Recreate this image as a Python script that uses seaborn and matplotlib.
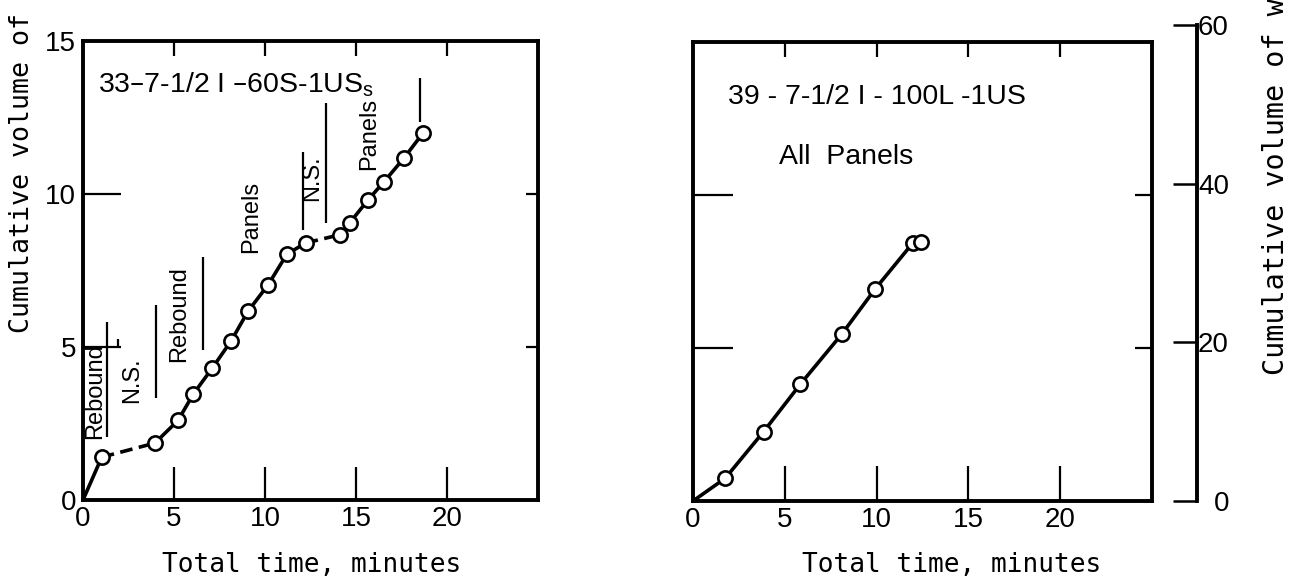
import matplotlib
matplotlib.use("Agg")
import matplotlib.pyplot as plt
from matplotlib import font_manager
import pandas as pd
import seaborn as sns

# ---- data -------------------------------------------------------------
# Test 33-7-1/2 I-60S-1US (volume scale 0-15)
time_33 = [0.0, 1.03, 3.95, 5.22, 6.07, 7.09, 8.14, 9.07, 10.18,
           11.2, 12.23, 14.13, 14.66, 15.65, 16.54, 17.63, 18.68]
vol_33 = [0.0, 1.40, 1.86, 2.60, 3.47, 4.30, 5.20, 6.17, 7.04,
          8.03, 8.40, 8.67, 9.06, 9.80, 10.40, 11.17, 11.99]
# style of the link between consecutive readings
link_33 = ["solid", "dashed"] + ["solid"] * 8 + ["dashed"] + ["solid"] * 5

# Test 39-7-1/2 I-100L-1US
time_39 = [0.0, 1.75, 3.85, 5.85, 8.10, 9.91, 11.97, 12.44]
vol_39 = [0.0, 0.74, 2.27, 3.82, 5.45, 6.92, 8.43, 8.48]

x_ticks = [0, 5, 10, 15, 20]
x_tick_labels = ["0", "5", "10", "15", "20"]
y_ticks = [0, 5, 10, 15]
y_tick_labels = ["0", "5", "10", "15"]
y2_ticks = [0, 20, 40, 60]
y2_tick_labels = ["0", "20", "40", "60"]

# phase notes on test 33: (label, time, volume)
phase_labels = [("Rebound", 0.66, 3.56), ("N.S.", 2.69, 3.92),
                ("Rebound", 5.27, 6.08), ("Panels", 9.23, 9.25),
                ("N.S.", 12.58, 10.52), ("Panels", 15.70, 11.95)]
# phase bars: (time, volume from, volume to)
phase_bars = [(1.32, 2.06, 5.82), (1.90, 5.00, 5.25), (4.00, 3.33, 6.37),
              (6.60, 4.90, 7.94), (12.10, 8.82, 11.37), (13.34, 9.05, 12.97),
              (18.50, 12.35, 13.80)]

# ---- style ------------------------------------------------------------
sns.set_theme(style="white")
names = {f.name for f in font_manager.fontManager.ttflist}
letter = "Liberation Sans" if "Liberation Sans" in names else "DejaVu Sans"
narrow = "Liberation Sans Narrow" if "Liberation Sans Narrow" in names else letter
mono = "DejaVu Sans Mono"
plt.rcParams["font.family"] = [letter, "DejaVu Sans"]
for key in ("text.color", "axes.labelcolor", "xtick.color", "ytick.color",
            "axes.edgecolor"):
    plt.rcParams[key] = "black"

W, H = 1289, 581
fig = plt.figure(figsize=(W / 100, H / 100), dpi=100)
fig.patch.set_facecolor("white")

ax1 = fig.add_axes([83 / W, 1 - 500 / H, 455 / W, 459 / H])
ax2 = fig.add_axes([693 / W, 1 - 501 / H, 459 / W, 459 / H])
ax3 = fig.add_axes([1177 / W, 1 - 501 / H, 20 / W, 476 / H])

LW = 2.6


def segments(t, v, links):
    rows = []
    for i, kind in enumerate(links):
        for j in (i, i + 1):
            rows.append({"time": t[j], "volume": v[j], "seg": i, "kind": kind})
    return pd.DataFrame(rows)


def draw_series(ax, t, v, links):
    df = segments(t, v, links)
    sns.lineplot(data=df, x="time", y="volume", units="seg", estimator=None,
                 style="kind", dashes={"solid": "", "dashed": (3.5, 1.8)},
                 color="black", linewidth=LW, legend=False, sort=False, ax=ax)
    pts = pd.DataFrame({"time": t[1:], "volume": v[1:]})
    sns.scatterplot(data=pts, x="time", y="volume", marker="o", s=105,
                    facecolor="white", edgecolor="black", linewidth=1.9,
                    zorder=4, ax=ax)


def frame(ax, lens, show_ylabels):
    ax.set_xlim(0, 25)
    ax.set_ylim(0, 15)
    ax.set_xticks(x_ticks, x_tick_labels, fontfamily=narrow, fontsize=20)
    if show_ylabels:
        ax.set_yticks(y_ticks, y_tick_labels, fontfamily=narrow, fontsize=20)
    else:
        ax.set_yticks(y_ticks, [""] * len(y_ticks))
    ax.tick_params(axis="both", direction="in", top=True, right=True,
                   bottom=True, left=True, width=1.6, color="black")
    ax.tick_params(axis="x", pad=4)
    ax.tick_params(axis="y", pad=5)
    bottom, top, left, right = lens
    for t in ax.xaxis.get_major_ticks():
        t.tick1line.set_markersize(bottom)
        t.tick2line.set_markersize(top)
    for t in ax.yaxis.get_major_ticks():
        t.tick1line.set_markersize(left)
        t.tick2line.set_markersize(right)
    for s in ax.spines.values():
        s.set_visible(True)
        s.set_linewidth(2.8)
        s.set_color("black")
    ax.set_facecolor("white")


# ---- left panel -------------------------------------------------------
draw_series(ax1, time_33, vol_33, link_33)
frame(ax1, (24, 11, 27, 9), True)
for label, t, v in phase_labels:
    ax1.text(t, v, label, rotation=90, ha="center", va="center",
             fontsize=17)
for t, v0, v1 in phase_bars:
    ax1.vlines(t, v0, v1, color="black", linewidth=1.6)
ax1.text(0.033, 0.906, "33\u20137-1/2 I \u201360S-1US$_\\mathregular{s}$",
         transform=ax1.transAxes, ha="left", va="center", fontsize=20.5)

ax1.set_xlabel("Total time, minutes", fontfamily=mono, fontsize=18.8)
ax1.xaxis.label.set_va("center")
ax1.xaxis.set_label_coords(311.6 / W, 1 - 565 / H, transform=fig.transFigure)
ax1.set_ylabel("Cumulative volume of water", fontfamily=mono, fontsize=19.2)
ax1.yaxis.label.set(rotation=90, rotation_mode="anchor", ha="left", va="center")
ax1.yaxis.set_label_coords(22 / W, 1 - 333 / H, transform=fig.transFigure)

# ---- right panel ------------------------------------------------------
draw_series(ax2, time_39, vol_39, ["solid"] * (len(time_39) - 1))
frame(ax2, (25, 11, 29, 12), False)
ax2.text(0.0773, 0.880, "39 - 7-1/2 I - 100L -1US",
         transform=ax2.transAxes, ha="left", va="center", fontsize=20.5)
ax2.text(0.187, 0.749, "All  Panels", transform=ax2.transAxes,
         ha="left", va="center", fontsize=20.5)
ax2.set_xlabel("Total time, minutes", fontfamily=mono, fontsize=18.8)
ax2.xaxis.label.set_va("center")
ax2.xaxis.set_label_coords(952 / W, 1 - 565 / H, transform=fig.transFigure)
ax2.set_ylabel("")

# ---- secondary volume scale --------------------------------------------
ax3.set_ylim(0, 60)
ax3.set_xticks([])
ax3.patch.set_visible(False)
for side in ("left", "top", "bottom"):
    ax3.spines[side].set_visible(False)
ax3.spines["right"].set_linewidth(2.8)
ax3.spines["right"].set_color("black")
ax3.yaxis.tick_right()
ax3.set_yticks(y2_ticks, y2_tick_labels, fontfamily=narrow, fontsize=20)
ax3.tick_params(axis="y", direction="in", length=17, width=1.8,
                color="black", pad=23)
for lab in ax3.get_yticklabels():
    lab.set_ha("right")
ax3.yaxis.set_label_position("right")
ax3.set_ylabel("Cumulative volume of water", fontfamily=mono, fontsize=20.5)
ax3.yaxis.label.set(rotation=90, rotation_mode="anchor", ha="left", va="center")
ax3.yaxis.set_label_coords(1276 / W, 1 - 375 / H, transform=fig.transFigure)

fig.savefig("out.png", dpi=100, facecolor="white")
